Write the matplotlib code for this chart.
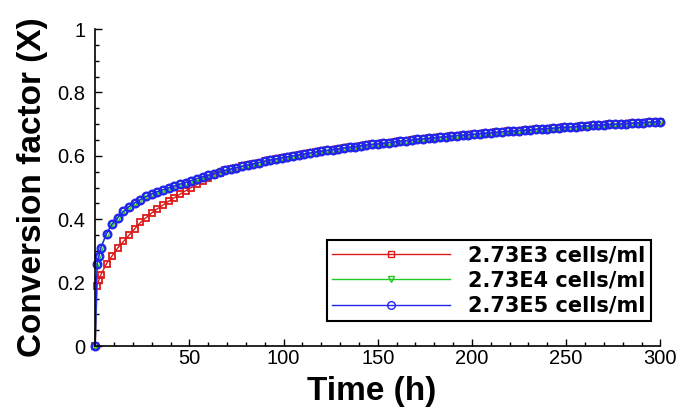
import matplotlib
matplotlib.use('Agg')
import matplotlib.pyplot as plt
from matplotlib.ticker import MultipleLocator

# time points (h)
time_h = [0, 1, 2] + list(range(3, 301, 3))

# 2.73E5 cells/ml
conv_e5 = [
    0.0, 0.26, 0.285,
    0.310, 0.355, 0.385, 0.405, 0.425, 0.440, 0.452, 0.462, 0.472, 0.480,
    0.487, 0.493, 0.499, 0.505, 0.511, 0.516, 0.522, 0.528, 0.534, 0.539,
    0.544, 0.549, 0.554, 0.558, 0.563, 0.567, 0.571, 0.575, 0.579, 0.583,
    0.587, 0.590, 0.594, 0.597, 0.600, 0.603, 0.606, 0.609, 0.612, 0.615,
    0.617, 0.620, 0.622, 0.625, 0.627, 0.629, 0.632, 0.634, 0.636, 0.638,
    0.640, 0.642, 0.644, 0.646, 0.648, 0.650, 0.652, 0.654, 0.655, 0.657,
    0.659, 0.660, 0.662, 0.664, 0.665, 0.667, 0.668, 0.670, 0.671, 0.673,
    0.674, 0.676, 0.677, 0.678, 0.680, 0.681, 0.682, 0.684, 0.685, 0.686,
    0.687, 0.689, 0.690, 0.691, 0.692, 0.693, 0.694, 0.696, 0.697, 0.698,
    0.699, 0.700, 0.701, 0.702, 0.703, 0.704, 0.705, 0.706, 0.707, 0.708,
]

# 2.73E4 cells/ml sits on top of the E5 curve
conv_e4 = list(conv_e5)

# 2.73E3 cells/ml: lower at start, merges with the others near 60 h
conv_e3 = [
    0.0, 0.19, 0.21,
    0.225, 0.260, 0.285, 0.310, 0.330, 0.350, 0.370, 0.390, 0.405, 0.420,
    0.433, 0.445, 0.457, 0.468, 0.479, 0.490, 0.500, 0.510, 0.520, 0.530,
    0.540, 0.547, 0.554, 0.558, 0.563, 0.567, 0.571, 0.575, 0.579, 0.583,
    0.587, 0.590, 0.594, 0.597, 0.600, 0.603, 0.606, 0.609, 0.612, 0.615,
    0.617, 0.620, 0.622, 0.625, 0.627, 0.629, 0.632, 0.634, 0.636, 0.638,
    0.640, 0.642, 0.644, 0.646, 0.648, 0.650, 0.652, 0.654, 0.655, 0.657,
    0.659, 0.660, 0.662, 0.664, 0.665, 0.667, 0.668, 0.670, 0.671, 0.673,
    0.674, 0.676, 0.677, 0.678, 0.680, 0.681, 0.682, 0.684, 0.685, 0.686,
    0.687, 0.689, 0.690, 0.691, 0.692, 0.693, 0.694, 0.696, 0.697, 0.698,
    0.699, 0.700, 0.701, 0.702, 0.703, 0.704, 0.705, 0.706, 0.707, 0.708,
]

labels = ['2.73E3 cells/ml', '2.73E4 cells/ml', '2.73E5 cells/ml']
x_ticks = [50, 100, 150, 200, 250, 300]
y_ticks = [0, 0.2, 0.4, 0.6, 0.8, 1.0]
y_tick_labels = ['0', '0.2', '0.4', '0.6', '0.8', '1']

RED = '#dd1a1a'
GREEN = '#22c822'
BLUE = '#2424ee'

plt.rcParams['font.family'] = ['Liberation Sans', 'DejaVu Sans']

fig = plt.figure(figsize=(6.85, 4.15), dpi=100)
ax = fig.add_axes([0.139, 0.166, 0.825, 0.764])

ax.plot(time_h, conv_e3, color=RED, lw=1, marker='s', ms=4.5, mfc='none',
        mew=1.3, label=labels[0], clip_on=False)
ax.plot(time_h, conv_e4, color=GREEN, lw=1, marker='v', ms=4.5, mfc='none',
        mew=1.0, label=labels[1], clip_on=False)
ax.plot(time_h, conv_e5, color=BLUE, lw=1, marker='o', ms=5.5, mfc='none',
        mew=1.7, label=labels[2], clip_on=False)

ax.set_xlim(0, 300)
ax.set_ylim(0, 1)
ax.set_xticks(x_ticks)
ax.set_yticks(y_ticks)
ax.set_yticklabels(y_tick_labels)
ax.xaxis.set_minor_locator(MultipleLocator(10))
ax.yaxis.set_minor_locator(MultipleLocator(0.05))
ax.tick_params(which='both', direction='in', labelsize=14.5, colors='black')
ax.tick_params(which='major', length=5, width=1)
ax.tick_params(which='minor', length=3, width=1)
ax.tick_params(axis='x', pad=2)
ax.tick_params(axis='y', pad=7)

for side in ['top', 'right']:
    ax.spines[side].set_visible(False)
for side in ['left', 'bottom']:
    ax.spines[side].set_linewidth(1.2)

ax.set_xlabel('Time (h)', fontsize=24, fontweight='bold')
ax.xaxis.set_label_coords(0.489, -0.095)
ax.set_ylabel('Conversion factor (X)', fontsize=24, fontweight='bold', labelpad=7)

leg = ax.legend(loc='lower right', bbox_to_anchor=(0.950, 0.2265),
                bbox_transform=fig.transFigure, borderaxespad=0,
                fancybox=False, framealpha=1, edgecolor='black',
                prop={'family': 'DejaVu Sans', 'weight': 'bold', 'size': 15},
                handlelength=5.7, handletextpad=0.85, labelspacing=0.25,
                borderpad=0.25, numpoints=1)
for h in leg.legend_handles:
    h.set_markeredgewidth(1.0)
leg.get_frame().set_linewidth(1.5)

fig.savefig('out.png', dpi=100, facecolor='white')
